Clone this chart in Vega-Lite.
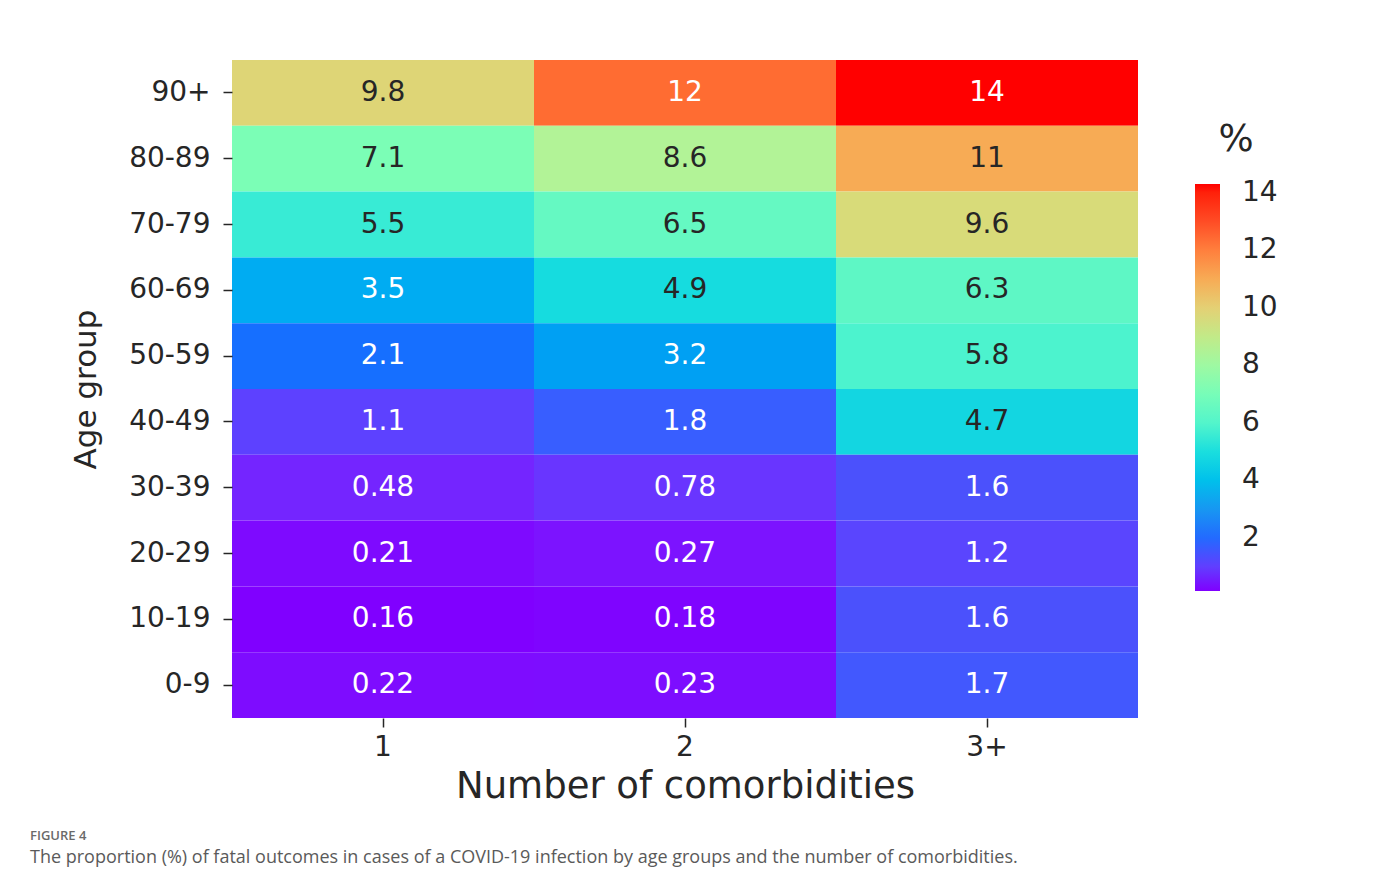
{
  "$schema": "https://vega.github.io/schema/vega-lite/v6.json",
  "width": 906,
  "height": 658,
  "autosize": {"type": "none"},
  "padding": {"left": 232, "top": 60, "right": 237, "bottom": 172},
  "background": "white",
  "title": {
    "text": "FIGURE 4",
    "subtitle": "The proportion (%) of fatal outcomes in cases of a COVID-19 infection by age groups and the number of comorbidities.",
    "orient": "bottom",
    "anchor": "start",
    "frame": "group",
    "dx": -202,
    "offset": 26,
    "font": "Open Sans",
    "fontSize": 13,
    "fontWeight": 600,
    "color": "#6a6a6a",
    "subtitleFont": "Open Sans",
    "subtitleFontSize": 18,
    "subtitleColor": "#5a5a5a",
    "subtitlePadding": 6
  },
  "data": {
    "values": [
      {"age": "90+", "comorb": "1", "value": 9.8},
      {"age": "90+", "comorb": "2", "value": 12.4},
      {"age": "90+", "comorb": "3+", "value": 14.3},
      {"age": "80-89", "comorb": "1", "value": 7.1},
      {"age": "80-89", "comorb": "2", "value": 8.6},
      {"age": "80-89", "comorb": "3+", "value": 11},
      {"age": "70-79", "comorb": "1", "value": 5.5},
      {"age": "70-79", "comorb": "2", "value": 6.5},
      {"age": "70-79", "comorb": "3+", "value": 9.6},
      {"age": "60-69", "comorb": "1", "value": 3.5},
      {"age": "60-69", "comorb": "2", "value": 4.9},
      {"age": "60-69", "comorb": "3+", "value": 6.3},
      {"age": "50-59", "comorb": "1", "value": 2.1},
      {"age": "50-59", "comorb": "2", "value": 3.2},
      {"age": "50-59", "comorb": "3+", "value": 5.8},
      {"age": "40-49", "comorb": "1", "value": 1.1},
      {"age": "40-49", "comorb": "2", "value": 1.8},
      {"age": "40-49", "comorb": "3+", "value": 4.7},
      {"age": "30-39", "comorb": "1", "value": 0.48},
      {"age": "30-39", "comorb": "2", "value": 0.78},
      {"age": "30-39", "comorb": "3+", "value": 1.6},
      {"age": "20-29", "comorb": "1", "value": 0.21},
      {"age": "20-29", "comorb": "2", "value": 0.27},
      {"age": "20-29", "comorb": "3+", "value": 1.2},
      {"age": "10-19", "comorb": "1", "value": 0.16},
      {"age": "10-19", "comorb": "2", "value": 0.18},
      {"age": "10-19", "comorb": "3+", "value": 1.6},
      {"age": "0-9", "comorb": "1", "value": 0.22},
      {"age": "0-9", "comorb": "2", "value": 0.23},
      {"age": "0-9", "comorb": "3+", "value": 1.7}
    ]
  },
  "encoding": {
    "x": {
      "field": "comorb",
      "type": "nominal",
      "sort": ["1", "2", "3+"],
      "scale": {"paddingInner": 0, "paddingOuter": 0},
      "axis": {
        "title": "Number of comorbidities",
        "labelAngle": 0,
        "labelFont": "DejaVu Sans",
        "labelFontSize": 28,
        "labelColor": "#262626",
        "labelPadding": 6,
        "tickSize": 9,
        "tickWidth": 1.5,
        "tickColor": "#262626",
        "domain": false,
        "titleFont": "DejaVu Sans",
        "titleFontSize": 37,
        "titleFontWeight": "normal",
        "titleColor": "#262626",
        "titlePadding": 7
      }
    },
    "y": {
      "field": "age",
      "type": "nominal",
      "sort": ["90+", "80-89", "70-79", "60-69", "50-59", "40-49", "30-39", "20-29", "10-19", "0-9"],
      "scale": {"paddingInner": 0, "paddingOuter": 0},
      "axis": {
        "title": "Age group",
        "labelFont": "DejaVu Sans",
        "labelFontSize": 28,
        "labelColor": "#262626",
        "labelPadding": 13,
        "tickSize": 9,
        "tickWidth": 1.5,
        "tickColor": "#262626",
        "domain": false,
        "titleFont": "DejaVu Sans",
        "titleFontSize": 31,
        "titleFontWeight": "normal",
        "titleColor": "#262626",
        "titlePadding": 26
      }
    }
  },
  "layer": [
    {
      "mark": {"type": "rect"},
      "encoding": {
        "color": {
          "field": "value",
          "type": "quantitative",
          "scale": {
            "type": "linear",
            "domain": [0.16, 1.574, 2.988, 4.402, 5.816, 7.23, 8.644, 10.058, 11.472, 12.886, 14.3],
            "range": ["#8000ff", "#4d4ffc", "#1a96f2", "#1acee3", "#4df3ce", "#80ffb4", "#b3f396", "#e6ce74", "#ff964f", "#ff4f28", "#ff0000"]
          },
          "legend": {
            "title": "%",
            "orient": "none",
            "legendX": 963,
            "legendY": 62,
            "direction": "vertical",
            "gradientLength": 407,
            "gradientThickness": 25,
            "values": [2, 4, 6, 8, 10, 12, 14],
            "labelFont": "DejaVu Sans",
            "labelFontSize": 28,
            "labelColor": "#262626",
            "labelOffset": 22,
            "titleFont": "DejaVu Sans",
            "titleFontSize": 37,
            "titleFontWeight": "normal",
            "titleColor": "#262626",
            "titleAnchor": "middle",
            "titlePadding": 25
          }
        }
      }
    },
    {
      "mark": {"type": "text", "font": "DejaVu Sans", "fontSize": 28},
      "encoding": {
        "text": {"field": "value", "type": "quantitative", "format": ".2g"},
        "color": {
          "condition": {"test": "datum.value >= 4 && datum.value <= 11.5", "value": "#262626"},
          "value": "#ffffff"
        }
      }
    }
  ],
  "config": {
    "view": {"stroke": null}
  }
}
